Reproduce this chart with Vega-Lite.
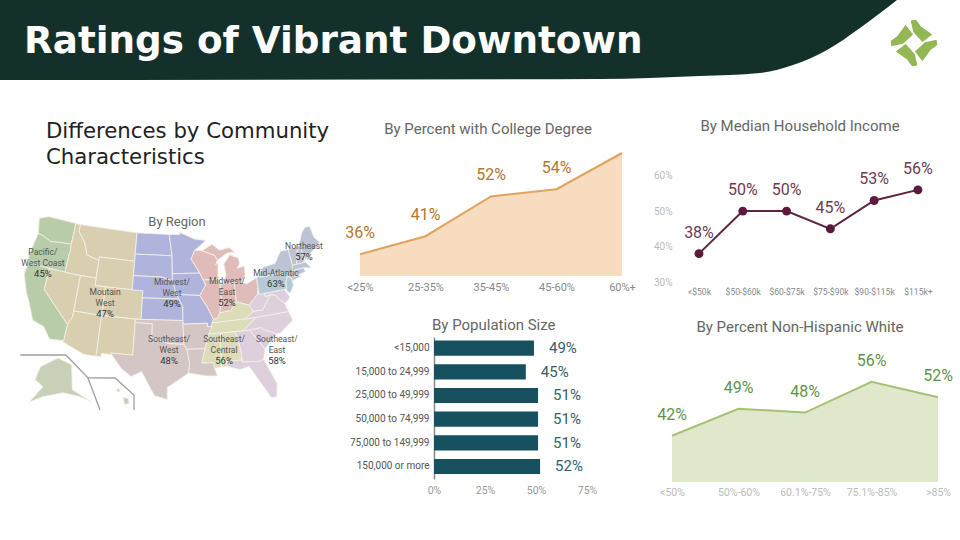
{"$schema":"https://vega.github.io/schema/vega-lite/v6.json","padding":0,"background":"white","spacing":39,"config":{"font":"Roboto","view":{"stroke":null},"axis":{"domain":false,"ticks":false,"grid":false,"title":null,"labelFont":"Roboto"},"title":{"font":"Roboto","fontWeight":"normal","fontSize":15,"color":"#666666"}},
"vconcat":[
{"width":960,"height":80,"layer":[
{"data":{"values":[{"pos":0,"edge":80},{"pos":600,"edge":79},{"pos":700,"edge":76},{"pos":760,"edge":73},{"pos":793,"edge":65},{"pos":827,"edge":50},{"pos":860,"edge":28},{"pos":897,"edge":0}]},"mark":{"type":"area","color":"#14302b","interpolate":"monotone"},"encoding":{"x":{"field":"pos","type":"quantitative","scale":{"domain":[0,960],"nice":false},"axis":null},"y":{"field":"edge","type":"quantitative","scale":{"domain":[80,0],"nice":false},"axis":null},"y2":{"datum":0}}},
{"data":{"values":[{"pos":24,"edge":42,"label":"Ratings of Vibrant Downtown"}]},"mark":{"type":"text","font":"DejaVu Sans","fontWeight":"bold","fontSize":37.3,"color":"white","align":"left","baseline":"middle"},"encoding":{"x":{"field":"pos","type":"quantitative"},"y":{"field":"edge","type":"quantitative"},"text":{"field":"label"}}},
{"data":{"values":[{"pos":914,"edge":43}]},"mark":{"type":"point","filled":true,"opacity":1,"color":"#93b755","size":2304,"shape":"M-.14,-.94L.08,-.97L.29,-.69L.76,-.35L.35,-.04L-.03,-.46ZM.94,-.14L.97,.08L.69,.29L.35,.76L.04,.35L.46,-.03ZM.14,.94L-.08,.97L-.29,.69L-.76,.35L-.35,.04L.03,.46ZM-.94,.14L-.97,-.08L-.69,-.29L-.35,-.76L-.04,-.35L-.46,.03Z"},"encoding":{"x":{"field":"pos","type":"quantitative"},"y":{"field":"edge","type":"quantitative"}}}
]},
{"columns":3,"spacing":{"row":55,"column":50},"bounds":"flush","concat":[
{"width":310,"height":40,"data":{"values":[]},"mark":{"type":"rule","opacity":0},"encoding":{},"title":{"text":["Differences by Community","Characteristics"],"font":"DejaVu Sans","fontSize":21.25,"color":"#222222","lineHeight":26,"anchor":"start","frame":"group","dx":46,"offset":-15}},
{"width":262,"height":123,"title":{"text":"By Percent with College Degree","anchor":"middle","frame":"group","dx":-3,"offset":12},
"data":{"values":[{"group":"<25%","pct":36,"label":"36%"},{"group":"25-35%","pct":41,"label":"41%"},{"group":"35-45%","pct":52,"label":"52%"},{"group":"45-60%","pct":54,"label":"54%"},{"group":"60%+","pct":64}]},
"encoding":{"x":{"field":"group","type":"ordinal","sort":null,"scale":{"type":"point","padding":0},"axis":{"labelAngle":0,"labelColor":"#888888","labelFontSize":11,"labelPadding":5}},"y":{"field":"pct","type":"quantitative","scale":{"domain":[30,64]},"axis":null}},
"layer":[{"mark":{"type":"area","color":"#f7dcc0"},"encoding":{"y2":{"datum":30}}},{"mark":{"type":"line","color":"#e0a35f","strokeWidth":2}},{"transform":[{"filter":"datum.label"}],"mark":{"type":"text","fontSize":16,"color":"#b5762e","dy":-21},"encoding":{"text":{"field":"label"}}}]},
{"width":268,"height":129,"title":{"text":"By Median Household Income","anchor":"middle","frame":"group","dx":-6,"offset":19},
"data":{"values":[{"income":"<$50k","pct":38,"label":"38%"},{"income":"$50-$60k","pct":50,"label":"50%"},{"income":"$60-$75k","pct":50,"label":"50%"},{"income":"$75-$90k","pct":45,"label":"45%"},{"income":"$90-$115k","pct":53,"label":"53%"},{"income":"$115k+","pct":56,"label":"56%"}]},
"encoding":{"x":{"field":"income","type":"ordinal","sort":null,"scale":{"type":"point","padding":0.56,"align":0.55},"axis":{"labelAngle":0,"labelColor":"#888888","labelFontSize":8.5,"labelPadding":5}},"y":{"field":"pct","type":"quantitative","scale":{"domain":[30,66.4]},"axis":{"values":[30,40,50,60],"labelExpr":"datum.value + '%'","labelColor":"#bbbbbb","labelFontSize":10,"labelPadding":0}}},
"layer":[{"mark":{"type":"line","color":"#5c2440","strokeWidth":2}},{"mark":{"type":"circle","color":"#5c1a3c","size":80,"opacity":1}},{"mark":{"type":"text","fontSize":16,"color":"#6e3a52","dy":-21},"encoding":{"text":{"field":"label"}}}]},
{"width":310,"height":145,"title":{"text":"By Region","fontSize":13,"anchor":"middle","frame":"group","dx":22,"offset":-14},"projection":{"type":"albers","scale":410,"center":[0,37.5],"rotate":[96,0],"parallels":[29.5,45.5],"translate":[175,-20]},"layer":[
{"data":{"values":[
{"type":"Feature","properties":{"state":"WA","region":"Pacific"},"geometry":{"type":"Polygon","coordinates":[[[-124.7,48.4],[-122.8,49],[-117,49],[-117,46],[-119,45.9],[-121.2,45.7],[-123,46.2],[-124,46.3],[-124.7,48.4]]]}},
{"type":"Feature","properties":{"state":"OR","region":"Pacific"},"geometry":{"type":"Polygon","coordinates":[[[-124,46.3],[-123,46.2],[-121.2,45.7],[-119,45.9],[-117,46],[-116.9,45],[-117,44.3],[-117,42],[-124.2,42],[-124.5,43],[-124,46.3]]]}},
{"type":"Feature","properties":{"state":"CA","region":"Pacific"},"geometry":{"type":"Polygon","coordinates":[[[-124.2,42],[-120,42],[-120,39],[-114.6,35],[-114.7,32.7],[-117.1,32.5],[-118.5,34],[-120.6,34.5],[-122,36.7],[-123,38],[-124.3,40.3],[-124.2,42]]]}},
{"type":"Feature","properties":{"state":"NV","region":"Mountain"},"geometry":{"type":"Polygon","coordinates":[[[-120,42],[-114,42],[-114,36.2],[-114.6,35],[-120,39],[-120,42]]]}},
{"type":"Feature","properties":{"state":"ID","region":"Mountain"},"geometry":{"type":"Polygon","coordinates":[[[-117,49],[-116,49],[-116,48],[-114.4,46.6],[-113.5,45],[-111,44.5],[-111,42],[-117,42],[-117,44.3],[-116.9,45],[-117,46],[-117,49]]]}},
{"type":"Feature","properties":{"state":"MT","region":"Mountain"},"geometry":{"type":"Polygon","coordinates":[[[-116,49],[-104,49],[-104,45],[-111,45],[-111,44.5],[-113.5,45],[-114.4,46.6],[-116,48],[-116,49]]]}},
{"type":"Feature","properties":{"state":"WY","region":"Mountain"},"geometry":{"type":"Polygon","coordinates":[[[-111,45],[-104,45],[-104,41],[-111,41],[-111,45]]]}},
{"type":"Feature","properties":{"state":"UT","region":"Mountain"},"geometry":{"type":"Polygon","coordinates":[[[-114,42],[-111,42],[-111,41],[-109,41],[-109,37],[-114,37],[-114,42]]]}},
{"type":"Feature","properties":{"state":"CO","region":"Mountain"},"geometry":{"type":"Polygon","coordinates":[[[-109,41],[-102,41],[-102,37],[-109,37],[-109,41]]]}},
{"type":"Feature","properties":{"state":"AZ","region":"Mountain"},"geometry":{"type":"Polygon","coordinates":[[[-114,37],[-109,37],[-109,31.3],[-111,31.3],[-114.8,32.5],[-114.7,32.7],[-114.6,35],[-114,36.2],[-114,37]]]}},
{"type":"Feature","properties":{"state":"NM","region":"Mountain"},"geometry":{"type":"Polygon","coordinates":[[[-109,37],[-103,37],[-103,32],[-106.6,32],[-106.5,31.8],[-108.2,31.8],[-108.2,31.3],[-109,31.3],[-109,37]]]}},
{"type":"Feature","properties":{"state":"ND","region":"MidwestWest"},"geometry":{"type":"Polygon","coordinates":[[[-104,49],[-97.2,49],[-96.6,46],[-104,46],[-104,49]]]}},
{"type":"Feature","properties":{"state":"SD","region":"MidwestWest"},"geometry":{"type":"Polygon","coordinates":[[[-104,46],[-96.6,46],[-96.5,42.5],[-98.5,43],[-104,43],[-104,46]]]}},
{"type":"Feature","properties":{"state":"NE","region":"MidwestWest"},"geometry":{"type":"Polygon","coordinates":[[[-104,43],[-98.5,43],[-96.5,42.5],[-95.3,40],[-102,40],[-102,41],[-104,41],[-104,43]]]}},
{"type":"Feature","properties":{"state":"KS","region":"MidwestWest"},"geometry":{"type":"Polygon","coordinates":[[[-102,40],[-95.3,40],[-94.6,39],[-94.6,37],[-102,37],[-102,40]]]}},
{"type":"Feature","properties":{"state":"MN","region":"MidwestWest"},"geometry":{"type":"Polygon","coordinates":[[[-97.2,49],[-95,49],[-95,49.3],[-92,48.3],[-89.6,48],[-92,46.7],[-92.8,45.5],[-91.2,43.5],[-96.5,43.5],[-96.6,46],[-97.2,49]]]}},
{"type":"Feature","properties":{"state":"IA","region":"MidwestWest"},"geometry":{"type":"Polygon","coordinates":[[[-96.5,43.5],[-91.2,43.5],[-90.2,41.8],[-91.4,40.4],[-95.7,40.6],[-96.5,42.5],[-96.5,43.5]]]}},
{"type":"Feature","properties":{"state":"MO","region":"MidwestWest"},"geometry":{"type":"Polygon","coordinates":[[[-95.7,40.6],[-91.4,40.4],[-90.2,38.8],[-89.2,37],[-89.5,36],[-90.3,36],[-90.3,36.5],[-94.6,36.5],[-94.6,39],[-95.3,40],[-95.7,40.6]]]}},
{"type":"Feature","properties":{"state":"WI","region":"MidwestEast"},"geometry":{"type":"Polygon","coordinates":[[[-92,46.7],[-90.5,46.6],[-88,45.8],[-87.6,45.1],[-88,44.5],[-87.5,44.8],[-87.8,42.5],[-90.6,42.5],[-91.2,43.5],[-92.8,45.5],[-92,46.7]]]}},
{"type":"Feature","properties":{"state":"MI","region":"MidwestEast"},"geometry":{"type":"MultiPolygon","coordinates":[[[[-90.5,46.6],[-88.4,47.4],[-87,46.5],[-85,46.7],[-84,46],[-85.5,46],[-87.6,45.1],[-88,45.8],[-90.5,46.6]]],[[[-85,45.7],[-83.4,45.1],[-83.3,44.3],[-83.9,43.7],[-82.5,43.9],[-82.5,42.7],[-83.4,41.7],[-86.8,41.8],[-86.2,43],[-86.4,44.5],[-85,45.7]]]]}},
{"type":"Feature","properties":{"state":"IL","region":"MidwestEast"},"geometry":{"type":"Polygon","coordinates":[[[-90.6,42.5],[-87.8,42.5],[-87.5,41.7],[-87.5,39.3],[-88,37.8],[-88.5,37.1],[-89.2,37],[-90.2,38.8],[-91.4,40.4],[-90.2,41.8],[-90.6,42.5]]]}},
{"type":"Feature","properties":{"state":"IN","region":"MidwestEast"},"geometry":{"type":"Polygon","coordinates":[[[-87.5,41.7],[-86.8,41.8],[-84.8,41.7],[-84.8,39.1],[-86,38],[-88,37.8],[-87.5,39.3],[-87.5,41.7]]]}},
{"type":"Feature","properties":{"state":"OH","region":"MidwestEast"},"geometry":{"type":"Polygon","coordinates":[[[-84.8,41.7],[-83.4,41.7],[-82.5,41.4],[-80.5,42],[-80.5,40.6],[-80.8,39.7],[-81.8,39],[-82.6,38.4],[-84.8,39.1],[-84.8,41.7]]]}},
{"type":"Feature","properties":{"state":"KY","region":"SoutheastCentral"},"geometry":{"type":"Polygon","coordinates":[[[-84.8,39.1],[-82.6,38.4],[-82,37.5],[-83.7,36.6],[-89.5,36.5],[-89.2,37],[-88.5,37.1],[-88,37.8],[-86,38],[-84.8,39.1]]]}},
{"type":"Feature","properties":{"state":"TN","region":"SoutheastCentral"},"geometry":{"type":"Polygon","coordinates":[[[-89.5,36.5],[-83.7,36.6],[-81.7,36.6],[-84.3,35],[-90.2,35],[-89.5,36.5]]]}},
{"type":"Feature","properties":{"state":"MS","region":"SoutheastCentral"},"geometry":{"type":"Polygon","coordinates":[[[-90.2,35],[-88.2,35],[-88.4,30.3],[-89.6,30.2],[-89.7,31],[-91.6,31],[-91,33],[-90.2,35]]]}},
{"type":"Feature","properties":{"state":"AL","region":"SoutheastCentral"},"geometry":{"type":"Polygon","coordinates":[[[-88.2,35],[-85.6,35],[-85,32.3],[-85,31],[-87.6,31],[-87.5,30.3],[-88.4,30.3],[-88.2,35]]]}},
{"type":"Feature","properties":{"state":"OK","region":"SoutheastWest"},"geometry":{"type":"Polygon","coordinates":[[[-103,37],[-94.6,37],[-94.5,33.7],[-97,33.8],[-100,34.6],[-100,36.5],[-103,36.5],[-103,37]]]}},
{"type":"Feature","properties":{"state":"TX","region":"SoutheastWest"},"geometry":{"type":"Polygon","coordinates":[[[-103,36.5],[-100,36.5],[-100,34.6],[-97,33.8],[-94.5,33.7],[-94,33],[-93.6,31],[-93.8,29.7],[-95,29],[-97.2,27.7],[-97.2,26],[-99.2,26.5],[-101.4,29.8],[-103,29],[-104.7,30],[-106.5,31.8],[-106.6,32],[-103,32],[-103,36.5]]]}},
{"type":"Feature","properties":{"state":"AR","region":"SoutheastWest"},"geometry":{"type":"Polygon","coordinates":[[[-94.6,36.5],[-90.3,36.5],[-90.3,36],[-89.5,36],[-90.2,35],[-91,33],[-94,33],[-94.5,33.7],[-94.6,36.5]]]}},
{"type":"Feature","properties":{"state":"LA","region":"SoutheastWest"},"geometry":{"type":"Polygon","coordinates":[[[-94,33],[-91,33],[-91.6,31],[-89.7,31],[-89.6,30.2],[-89.2,29.1],[-91,29.2],[-93.8,29.7],[-93.6,31],[-94,33]]]}},
{"type":"Feature","properties":{"state":"GA","region":"SoutheastEast"},"geometry":{"type":"Polygon","coordinates":[[[-85.6,35],[-83.1,35],[-81,32.1],[-81.5,30.7],[-82.2,30.5],[-85,30.7],[-85,32.3],[-85.6,35]]]}},
{"type":"Feature","properties":{"state":"FL","region":"SoutheastEast"},"geometry":{"type":"Polygon","coordinates":[[[-87.6,31],[-85,31],[-85,30.7],[-82.2,30.5],[-81.5,30.7],[-80,27],[-80.4,25.2],[-81.2,25.2],[-82.8,28],[-84,30],[-85.5,29.7],[-87.5,30.3],[-87.6,31]]]}},
{"type":"Feature","properties":{"state":"SC","region":"SoutheastEast"},"geometry":{"type":"Polygon","coordinates":[[[-83.1,35],[-81,35.1],[-80.8,34.8],[-78.6,33.9],[-81,32.1],[-83.1,35]]]}},
{"type":"Feature","properties":{"state":"NC","region":"SoutheastEast"},"geometry":{"type":"Polygon","coordinates":[[[-84.3,35],[-81.7,36.6],[-75.9,36.6],[-75.5,35.3],[-78,33.9],[-78.6,33.9],[-80.8,34.8],[-81,35.1],[-83.1,35],[-84.3,35]]]}},
{"type":"Feature","properties":{"state":"VA","region":"SoutheastEast"},"geometry":{"type":"Polygon","coordinates":[[[-83.7,36.6],[-82,37.5],[-80.3,37.5],[-78.5,39.4],[-77.5,39.1],[-77,38.4],[-76.3,37.9],[-75.9,36.6],[-81.7,36.6],[-83.7,36.6]]]}},
{"type":"Feature","properties":{"state":"WV","region":"SoutheastEast"},"geometry":{"type":"Polygon","coordinates":[[[-82.6,38.4],[-81.8,39],[-80.8,39.7],[-80.5,40.6],[-80.5,39.7],[-79.5,39.7],[-79.5,39.2],[-78.5,39.4],[-80.3,37.5],[-82,37.5],[-82.6,38.4]]]}},
{"type":"Feature","properties":{"state":"MD","region":"SoutheastEast"},"geometry":{"type":"Polygon","coordinates":[[[-79.5,39.7],[-75.8,39.7],[-75.1,38.5],[-75.9,37.9],[-76.3,37.9],[-77,38.4],[-77.5,39.1],[-78.5,39.4],[-79.5,39.2],[-79.5,39.7]]]}},
{"type":"Feature","properties":{"state":"PA","region":"MidAtlantic"},"geometry":{"type":"Polygon","coordinates":[[[-80.5,42],[-79.8,42.3],[-79.8,42],[-75.3,42],[-74.7,41.4],[-75.2,40.7],[-75.4,39.8],[-75.8,39.7],[-79.5,39.7],[-80.5,39.7],[-80.5,42]]]}},
{"type":"Feature","properties":{"state":"NJ","region":"MidAtlantic"},"geometry":{"type":"Polygon","coordinates":[[[-74.7,41.4],[-74,41],[-74,40],[-74.9,39],[-75.5,39.5],[-75.4,39.8],[-75.2,40.7],[-74.7,41.4]]]}},
{"type":"Feature","properties":{"state":"NY","region":"Northeast"},"geometry":{"type":"Polygon","coordinates":[[[-79.8,42.3],[-79,43.3],[-76.5,43.5],[-75,45],[-73.4,45],[-73.3,42.7],[-73.5,41.3],[-72,41],[-74,40.6],[-74,41],[-74.7,41.4],[-75.3,42],[-79.8,42],[-79.8,42.3]]]}},
{"type":"Feature","properties":{"state":"VT","region":"Northeast"},"geometry":{"type":"Polygon","coordinates":[[[-73.4,45],[-71.5,45],[-72.5,42.7],[-73.3,42.7],[-73.4,45]]]}},
{"type":"Feature","properties":{"state":"NH","region":"Northeast"},"geometry":{"type":"Polygon","coordinates":[[[-71.5,45],[-71,45.3],[-70.7,43],[-71.3,42.7],[-72.5,42.7],[-71.5,45]]]}},
{"type":"Feature","properties":{"state":"ME","region":"Northeast"},"geometry":{"type":"Polygon","coordinates":[[[-71,45.3],[-70,46.7],[-69,47.4],[-68,47.3],[-67.8,45.7],[-67,44.8],[-70.7,43],[-71,45.3]]]}},
{"type":"Feature","properties":{"state":"MA","region":"Northeast"},"geometry":{"type":"Polygon","coordinates":[[[-73.3,42.7],[-71.3,42.7],[-70.7,42.7],[-70,41.7],[-71.4,42],[-73.5,42],[-73.3,42.7]]]}},
{"type":"Feature","properties":{"state":"CT","region":"Northeast"},"geometry":{"type":"Polygon","coordinates":[[[-73.5,42],[-71.4,42],[-71.2,41.4],[-73.5,41.1],[-73.5,42]]]}},
{"type":"Feature","properties":{"state":"AK","region":"Inset"},"geometry":{"type":"Polygon","coordinates":[[[-117.53,28.45],[-115.06,30.17],[-112.7,29.6],[-111.93,26.18],[-108.78,24.9],[-110.8,25.39],[-113.22,25.52],[-116.15,24.42],[-117.96,23.24],[-116.46,25.79],[-117.9,26.53],[-117.53,28.45]]]}},
{"type":"Feature","properties":{"state":"HI","region":"Inset"},"geometry":{"type":"MultiPolygon","coordinates":[[[[-104,26],[-103.2,25.9],[-103,25.2],[-103.7,25],[-104,26]]],[[[-105,27.2],[-104.6,27.1],[-104.7,26.7],[-105.1,26.8],[-105,27.2]]]]}}
]},"mark":{"type":"geoshape","clip":false,"stroke":"#f4f1ea","strokeWidth":0.8},"encoding":{"color":{"field":"properties.region","type":"nominal","legend":null,"scale":{"domain":["Pacific","Mountain","MidwestWest","MidwestEast","SoutheastWest","SoutheastCentral","SoutheastEast","MidAtlantic","Northeast","Inset"],"range":["#b8ccaa","#d9cfb0","#b0b3dc","#dfbcb9","#d5c6c6","#dcdcb8","#ddd0dc","#b6c9d6","#bcc3d4","#c8d0b8"]}}}},
{"data":{"values":[
{"type":"Feature","properties":{"inset":"Alaska"},"geometry":{"type":"LineString","coordinates":[[-121.1,29.37],[-113.9,30.8],[-109.8,28.15],[-107.3,23.9]]}},
{"type":"Feature","properties":{"inset":"Hawaii"},"geometry":{"type":"LineString","coordinates":[[-109.8,28.15],[-105.55,28.6],[-102.35,26.44],[-102.2,24.34]]}}
]},"mark":{"type":"geoshape","clip":false,"filled":false,"stroke":"#a0a0a0","strokeWidth":1.3},"encoding":{}},
{"data":{"name":"regionLabels","values":[
{"region":"Pacific/West Coast","lon":-121.5,"lat":42.5,"line1":"Pacific/","line2":"West Coast","pct":"45%"},
{"region":"Mountain West","lon":-108.7,"lat":38.8,"line1":"Moutain","line2":"West","pct":"47%"},
{"region":"Midwest/West","lon":-96.56,"lat":40.83,"line1":"Midwest/","line2":"West","pct":"49%"},
{"region":"Midwest/East","lon":-86.33,"lat":40.6,"line1":"Midwest/","line2":"East","pct":"52%"},
{"region":"Northeast","lon":-70.2,"lat":44.9,"line2":"Northeast","pct":"57%"},
{"region":"Mid-Atlantic","lon":-76.7,"lat":42.2,"line2":"Mid-Atlantic","pct":"63%"},
{"region":"Southeast/West","lon":-97,"lat":32.94,"line1":"Southeast/","line2":"West","pct":"48%"},
{"region":"Southeast/Central","lon":-87.8,"lat":32.64,"line1":"Southeast/","line2":"Central","pct":"56%"},
{"region":"Southeast/East","lon":-79.1,"lat":31.67,"line1":"Southeast/","line2":"East","pct":"58%"}
]},"transform":[{"filter":"datum.line1"}],"mark":{"type":"text","clip":false,"fontSize":8.5,"color":"#555555","dy":-11},"encoding":{"longitude":{"field":"lon","type":"quantitative"},"latitude":{"field":"lat","type":"quantitative"},"text":{"field":"line1"}}},
{"data":{"name":"regionLabels"},"mark":{"type":"text","clip":false,"fontSize":8.5,"color":"#555555"},"encoding":{"longitude":{"field":"lon","type":"quantitative"},"latitude":{"field":"lat","type":"quantitative"},"text":{"field":"line2"}}},
{"data":{"name":"regionLabels"},"mark":{"type":"text","clip":false,"fontSize":9.5,"color":"#333333","dy":11},"encoding":{"longitude":{"field":"lon","type":"quantitative"},"latitude":{"field":"lat","type":"quantitative"},"text":{"field":"pct"}}}
]},
{"width":262,"height":142,"title":{"text":"By Population Size","anchor":"start","frame":"group","dx":72,"offset":4},
"data":{"values":[{"size":"<15,000","pct":49,"label":"49%"},{"size":"15,000 to 24,999","pct":45,"label":"45%"},{"size":"25,000 to 49,999","pct":51,"label":"51%"},{"size":"50,000 to 74,999","pct":51,"label":"51%"},{"size":"75,000 to 149,999","pct":51,"label":"51%"},{"size":"150,000 or more","pct":52,"label":"52%"}]},
"encoding":{"y":{"field":"size","type":"nominal","sort":null,"scale":{"paddingInner":0.36,"paddingOuter":0.18,"align":0.42},"axis":{"domain":true,"domainColor":"#888888","domainWidth":1.5,"labelColor":"#555555","labelFontSize":10,"labelPadding":5,"offset":-74}},"x":{"field":"pct","type":"quantitative","scale":{"domain":[0,75],"range":[74,227]},"axis":{"values":[0,25,50,75],"labelExpr":"datum.value + '%'","labelColor":"#999999","labelFontSize":10.5,"labelPadding":6,"labelFlush":false}}},
"layer":[{"mark":{"type":"bar","color":"#17505f"}},{"mark":{"type":"text","align":"left","dx":15,"fontSize":15,"color":"#33606e"},"encoding":{"text":{"field":"label"}}}]},
{"width":266,"height":145,"title":{"text":"By Percent Non-Hispanic White","anchor":"middle","frame":"group","dx":-5,"offset":2},
"data":{"values":[{"share":"<50%","pct":42,"label":"42%"},{"share":"50%-60%","pct":49,"label":"49%"},{"share":"60.1%-75%","pct":48,"label":"48%"},{"share":"75.1%-85%","pct":56,"label":"56%"},{"share":">85%","pct":52,"label":"52%"}]},
"encoding":{"x":{"field":"share","type":"ordinal","sort":null,"scale":{"type":"point","padding":0},"axis":{"labelAngle":0,"labelColor":"#bbbbbb","labelFontSize":10.5,"labelPadding":5}},"y":{"field":"pct","type":"quantitative","scale":{"domain":[30,67.6]},"axis":null}},
"layer":[{"mark":{"type":"area","color":"#dfe8cb"},"encoding":{"y2":{"datum":30}}},{"mark":{"type":"line","color":"#a5c274","strokeWidth":2}},{"mark":{"type":"text","fontSize":16,"color":"#5f9347","dy":-21},"encoding":{"text":{"field":"label"}}}]}
]}
]}
